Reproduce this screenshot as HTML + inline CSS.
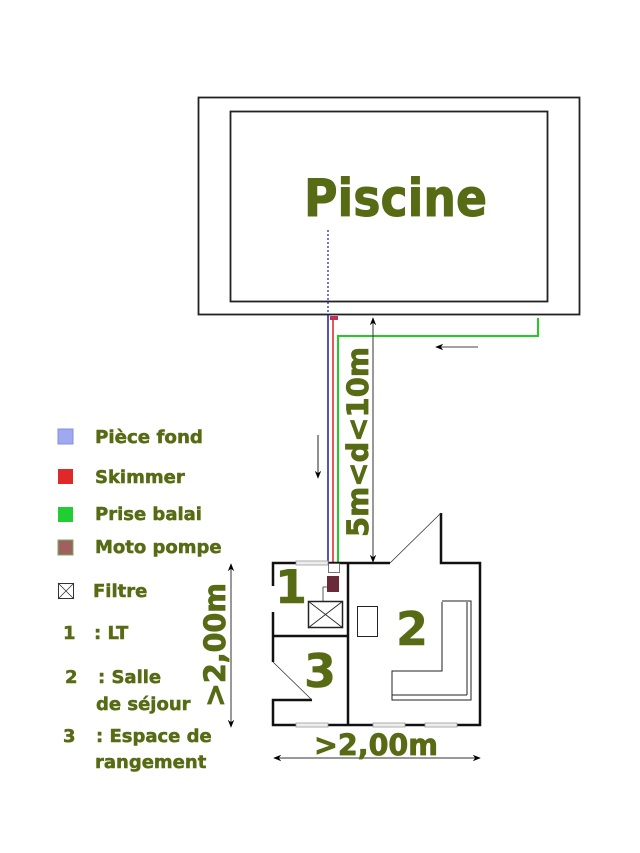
<!DOCTYPE html>
<html><head><meta charset="utf-8"><style>
html,body{margin:0;padding:0;background:#fff;width:640px;height:853px;overflow:hidden}
text{font-family:"DejaVu Sans","Liberation Sans",sans-serif;font-weight:bold;fill:#566b14;stroke:#566b14;stroke-width:0.5}
</style></head><body>
<svg width="640" height="853" viewBox="0 0 640 853" xmlns="http://www.w3.org/2000/svg">
<defs>
<marker id="ah" viewBox="0 0 10 10" refX="9" refY="5" markerWidth="8" markerHeight="8" orient="auto-start-reverse"><path d="M0,1 L10,5 L0,9 L3,5 Z" fill="#000"/></marker>
</defs>
<!-- pool -->
<rect x="198.5" y="97.5" width="381" height="217" fill="none" stroke="#222" stroke-width="1.8"/>
<rect x="230.5" y="111.5" width="317" height="190" fill="none" stroke="#222" stroke-width="1.8"/>
<text x="304" y="216" font-size="52" textLength="183" lengthAdjust="spacingAndGlyphs" style="stroke-width:1">Piscine</text>
<!-- pipes -->
<line x1="328" y1="230" x2="328" y2="314" stroke="#1a1aa0" stroke-width="1.2" stroke-dasharray="2,2"/>
<line x1="328" y1="314" x2="328" y2="565" stroke="#1a1aa0" stroke-width="1.5"/>
<line x1="333" y1="318" x2="333" y2="565" stroke="#e02020" stroke-width="1.5"/>
<rect x="330" y="316" width="8" height="4" fill="#c03050"/>
<polyline points="538,318 538,336 338,336 338,565" fill="none" stroke="#22cc22" stroke-width="2"/>
<line x1="478" y1="347" x2="436" y2="347" stroke="#444" stroke-width="1" marker-end="url(#ah)"/>
<line x1="318" y1="435" x2="318" y2="478" stroke="#222" stroke-width="1" marker-end="url(#ah)"/>
<line x1="373" y1="318" x2="373" y2="562" stroke="#333" stroke-width="1" marker-start="url(#ah)" marker-end="url(#ah)"/>
<text transform="translate(368,442) rotate(-90)" font-size="29" text-anchor="middle" textLength="190" lengthAdjust="spacingAndGlyphs" style="stroke-width:0.8">5m&lt;d&lt;10m</text>
<!-- house walls -->
<g stroke="#111" stroke-width="2.5" fill="none">
<polyline points="273,586 273,563 390,563"/>
<polyline points="441,513 441,563 480,563 480,725 273,725 273,700 312,700"/>
<line x1="273" y1="612" x2="273" y2="662"/>
<line x1="348" y1="563" x2="348" y2="725"/>
<line x1="273" y1="636" x2="348" y2="636"/>
</g>
<line x1="390" y1="563" x2="441" y2="513" stroke="#333" stroke-width="0.8"/>
<line x1="273" y1="662" x2="312" y2="700" stroke="#333" stroke-width="0.8"/>
<g fill="#eee" stroke="#999" stroke-width="0.8">
<rect x="296" y="561" width="32" height="4"/>
<rect x="296" y="723" width="32" height="4"/>
<rect x="373" y="723" width="32" height="4"/>
<rect x="425" y="723" width="32" height="4"/>
</g>
<!-- equipment -->
<rect x="328.5" y="563.5" width="11" height="9" fill="#fff" stroke="#555" stroke-width="0.8"/>
<rect x="327" y="576" width="12" height="16" fill="#6b2a3a"/>
<polyline points="327,587 323,587 323,601" fill="none" stroke="#333" stroke-width="0.8"/>
<rect x="308.5" y="601.5" width="34" height="26" fill="#fff" stroke="#222" stroke-width="1.5"/>
<line x1="308" y1="601" x2="343" y2="628" stroke="#222" stroke-width="0.8"/>
<line x1="343" y1="601" x2="308" y2="628" stroke="#222" stroke-width="0.8"/>
<rect x="357.5" y="606.5" width="20" height="30" fill="none" stroke="#222" stroke-width="1"/>
<g fill="none" stroke="#222" stroke-width="1">
<polyline points="442,602 442,671 392,671 392,700 471,700 471,601 442,601"/>
<line x1="467" y1="602" x2="467" y2="695"/>
<line x1="392" y1="695" x2="467" y2="695"/>
</g>
<g style="stroke-width:1.5">
<text x="275" y="603" font-size="46">1</text>
<text x="396" y="645" font-size="46">2</text>
<text x="304" y="687" font-size="46">3</text>
</g>
<!-- dims -->
<line x1="274" y1="758" x2="480" y2="758" stroke="#333" stroke-width="1" marker-start="url(#ah)" marker-end="url(#ah)"/>
<text x="376" y="755" font-size="29" text-anchor="middle" textLength="124" lengthAdjust="spacingAndGlyphs" style="stroke-width:0.8">&gt;2,00m</text>
<line x1="231" y1="564" x2="231" y2="727" stroke="#333" stroke-width="1" marker-start="url(#ah)" marker-end="url(#ah)"/>
<text transform="translate(225,645) rotate(-90)" font-size="29" text-anchor="middle" textLength="124" lengthAdjust="spacingAndGlyphs" style="stroke-width:0.8">&gt;2,00m</text>
<!-- legend -->
<rect x="58" y="429" width="15" height="15" fill="#a0a8f0" stroke="#8090e0"/>
<rect x="58" y="469" width="15" height="15" fill="#e02828"/>
<rect x="58" y="507" width="15" height="15" fill="#22cc33"/>
<rect x="58" y="540" width="15" height="15" fill="#a06060" stroke="#70b060"/>
<rect x="58.5" y="583.5" width="15" height="15" fill="#fff" stroke="#333"/>
<line x1="58" y1="583" x2="74" y2="599" stroke="#333" stroke-width="0.8"/>
<line x1="74" y1="583" x2="58" y2="599" stroke="#333" stroke-width="0.8"/>
<g font-size="18">
<text x="95" y="443" textLength="108" lengthAdjust="spacingAndGlyphs">Pièce fond</text>
<text x="95" y="483">Skimmer</text>
<text x="95" y="520">Prise balai</text>
<text x="95" y="553">Moto pompe</text>
<text x="93" y="597">Filtre</text>
<text x="63" y="639">1</text><text x="94" y="639">: LT</text>
<text x="65" y="683">2</text><text x="98" y="683">: Salle</text>
<text x="96" y="710">de séjour</text>
<text x="63" y="742">3</text><text x="96" y="742">: Espace de</text>
<text x="95" y="768">rangement</text>
</g>
</svg>
</body></html>
